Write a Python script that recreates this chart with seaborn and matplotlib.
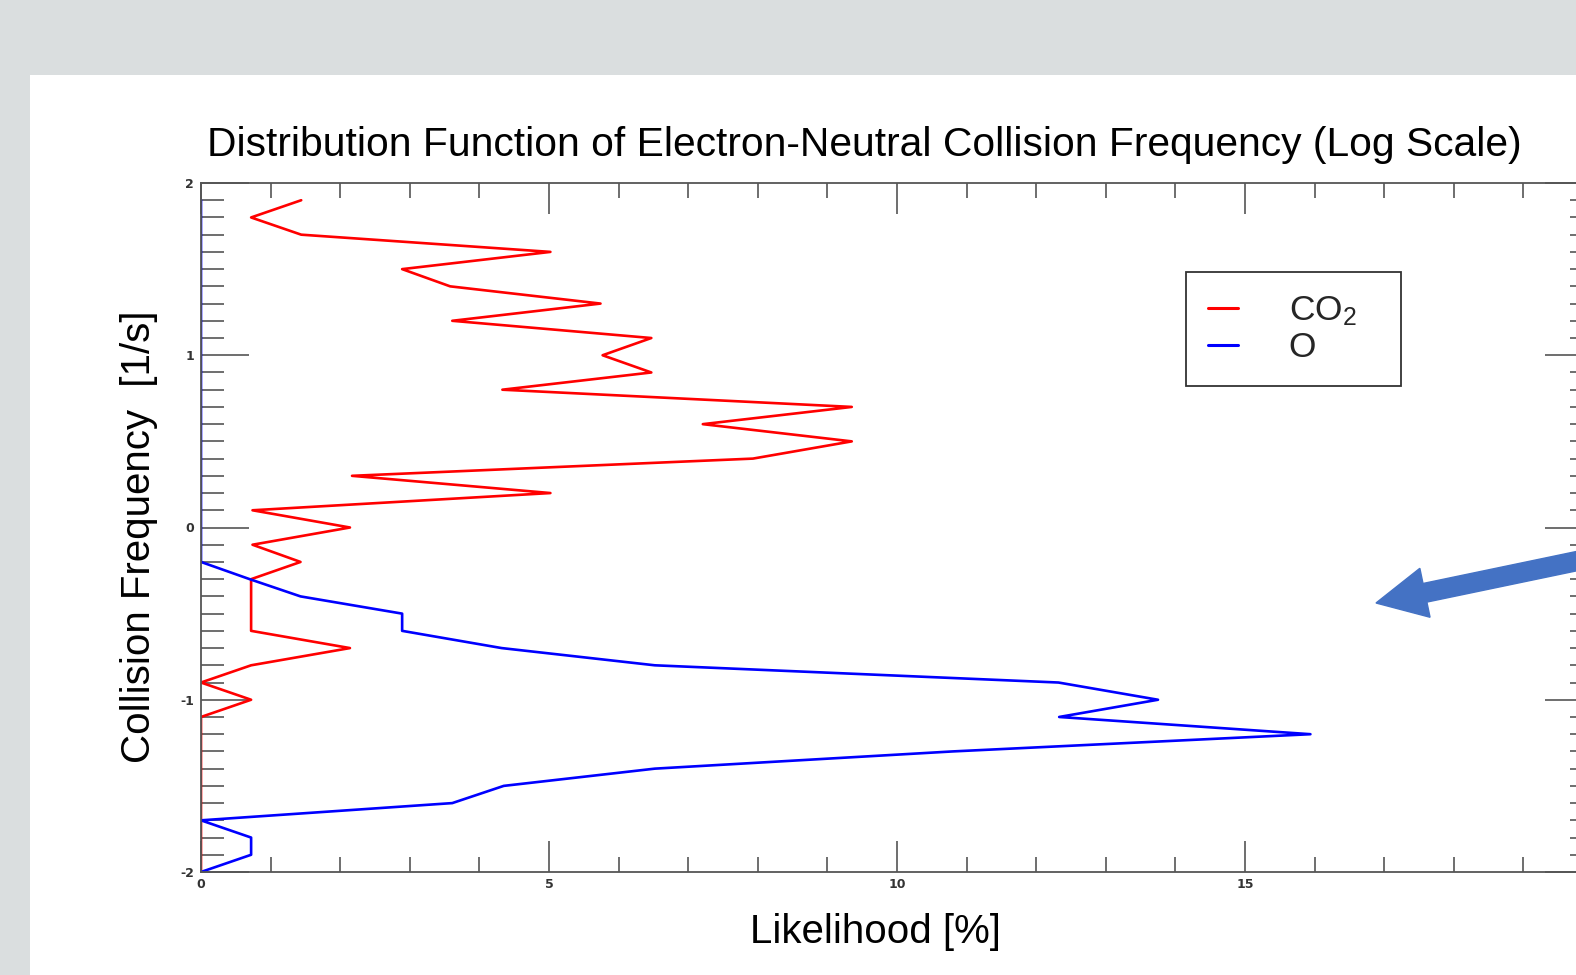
import numpy as np
import pandas as pd
import matplotlib
matplotlib.use("Agg")
import matplotlib.pyplot as plt
from matplotlib.patches import Rectangle, FancyArrow
from matplotlib.ticker import MultipleLocator, FixedLocator
import seaborn as sns

# ---- data ----
log_freq = [-2.0, -1.9, -1.8, -1.7, -1.6, -1.5, -1.4, -1.3, -1.2, -1.1,
            -1.0, -0.9, -0.8, -0.7, -0.6, -0.5, -0.4, -0.3, -0.2, -0.1,
            0.0, 0.1, 0.2, 0.3, 0.4, 0.5, 0.6, 0.7, 0.8, 0.9,
            1.0, 1.1, 1.2, 1.3, 1.4, 1.5, 1.6, 1.7, 1.8, 1.9]
co2_likelihood = [0, 0, 0, 0, 0, 0, 0, 0, 0, 0,
                  0.72, 0, 0.72, 2.14, 0.72, 0.72, 0.72, 0.72, 1.43, 0.74,
                  2.14, 0.74, 5.02, 2.17, 7.93, 9.35, 7.21, 9.35, 4.33, 6.47,
                  5.77, 6.47, 3.61, 5.74, 3.58, 2.89, 5.02, 1.44, 0.72, 1.44]
o_likelihood = [0, 0.72, 0.72, 0, 3.61, 4.35, 6.52, 10.8, 15.94, 12.33,
                13.75, 12.32, 6.52, 4.32, 2.89, 2.89, 1.43, 0.70, 0, 0,
                0, 0, 0, 0, 0, 0, 0, 0, 0, 0,
                0, 0, 0, 0, 0, 0, 0, 0, 0, 0]
species = ["CO$_2$", "O"]
colors = ["#ff0000", "#0000ff"]
x_major_ticks = [0, 5, 10, 15]
title = "Distribution Function of Electron-Neutral Collision Frequency (Log Scale)"
xlabel = "Likelihood [%]"
ylabel = "Collision Frequency  [1/s]"

df = pd.concat([
    pd.DataFrame({"freq": log_freq, "likelihood": co2_likelihood, "species": species[0]}),
    pd.DataFrame({"freq": log_freq, "likelihood": o_likelihood, "species": species[1]}),
], ignore_index=True)

sns.set_theme(style="white")
plt.rcParams["font.family"] = ["Liberation Sans", "DejaVu Sans"]
plt.rcParams["mathtext.fontset"] = "custom"
plt.rcParams["mathtext.rm"] = "Liberation Sans"
plt.rcParams["mathtext.default"] = "regular"
plt.rcParams["axes.unicode_minus"] = False

W, H = 1576, 975
fig = plt.figure(figsize=(W / 100, H / 100), dpi=100, facecolor="#dadedf")
# white slide panel
fig.patches.append(Rectangle((30 / W, 0), 1 - 30 / W, (H - 75) / H,
                             transform=fig.transFigure, facecolor="white",
                             edgecolor="none", zorder=-5))

ax = fig.add_axes([201 / W, (H - 872) / H, (1593 - 201) / W, 689 / H])
ax.set_zorder(2)
ax.set_facecolor("white")

sns.lineplot(data=df, x="likelihood", y="freq", hue="species", orient="y",
             estimator=None, sort=True, palette=colors, linewidth=1.9, ax=ax)

ax.set_xlim(0, 20)
ax.set_ylim(-2, 2)
ax.xaxis.set_major_locator(FixedLocator(x_major_ticks))
ax.xaxis.set_minor_locator(MultipleLocator(1))
ax.yaxis.set_major_locator(MultipleLocator(1))
ax.yaxis.set_minor_locator(MultipleLocator(0.1))

axc = "#555555"
for s in ax.spines.values():
    s.set_color(axc)
    s.set_linewidth(1.3)
    s.set_visible(True)
ax.tick_params(axis="both", which="both", direction="in", colors=axc,
               top=True, right=True, bottom=True, left=True, width=1.2,
               labelcolor="#333333", labelsize=9)
ax.tick_params(axis="x", which="major", length=31 * 0.72, pad=4)
ax.tick_params(axis="x", which="minor", length=15 * 0.72)
ax.tick_params(axis="y", which="major", length=48 * 0.72, pad=5)
ax.tick_params(axis="y", which="minor", length=23.5 * 0.72)
for lab in ax.get_xticklabels() + ax.get_yticklabels():
    lab.set_fontfamily("DejaVu Sans")
    lab.set_fontweight("bold")

ax.set_xlabel(xlabel, fontsize=29, color="black")
ax.set_ylabel(ylabel, fontsize=29, color="black")
ax.xaxis.set_label_coords((875 - 201) / 1392, (872 - 913) / 689)
ax.yaxis.set_label_coords((158 - 201) / 1392, (872 - 537) / 689)

fig.text(864 / W, 1 - 156 / H, title, fontsize=29.3, ha="center",
         va="baseline", color="black")

handles, labels = ax.get_legend_handles_labels()
labels = [lab + "   " for lab in labels]
leg = ax.legend(handles, labels, loc="upper left",
                bbox_to_anchor=(1186 / W, 1 - 272 / H),
                bbox_transform=fig.transFigure, fontsize=25.5,
                frameon=True, fancybox=False, edgecolor="black",
                handlelength=0.85, handletextpad=1.45, labelspacing=0.1,
                borderpad=0.62, borderaxespad=0)
leg.get_frame().set_linewidth(1.3)
for line in leg.get_lines():
    line.set_linewidth(2.2)

# slide annotation arrow (inches)
x0, y0 = 16.3, (H - 553) / 100 + 0.03
x1, y1 = 13.76, (H - 603) / 100
arrow = FancyArrow(x0, y0, x1 - x0, y1 - y0,
                   width=0.19, head_width=0.5, head_length=0.5,
                   length_includes_head=True, color="#4472C4",
                   transform=fig.dpi_scale_trans, zorder=10)
fig.add_artist(arrow)

fig.savefig("out.png", dpi=100, facecolor=fig.get_facecolor())
